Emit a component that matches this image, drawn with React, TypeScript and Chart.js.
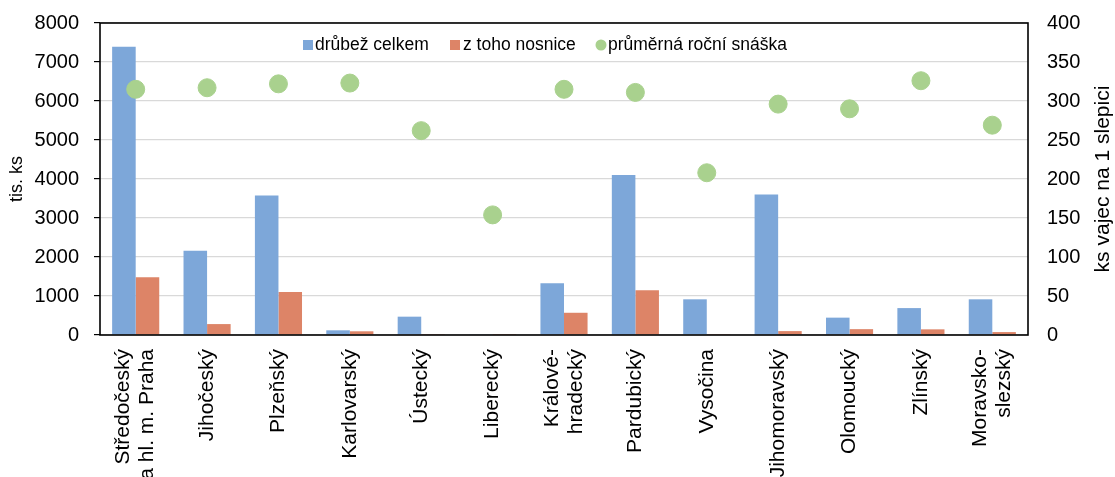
import React, { useEffect, useRef } from 'react';
import { Chart, registerables } from 'chart.js';

Chart.register(...registerables);

const categories: (string | string[])[] = [
  ['Středočeský', 'a hl. m. Praha'],
  'Jihočeský',
  'Plzeňský',
  'Karlovarský',
  'Ústecký',
  'Liberecký',
  ['Králové-', 'hradecký'],
  'Pardubický',
  'Vysočina',
  'Jihomoravský',
  'Olomoucký',
  'Zlínský',
  ['Moravsko-', 'slezský'],
];
const poultryTotal = [7390, 2160, 3580, 120, 470, 20, 1330, 4100, 915, 3600, 445, 690, 915];
const layingHens = [1480, 280, 1100, 95, 5, 3, 570, 1150, 5, 100, 150, 145, 75];
const avgLaying = [315, 317, 322, 323, 262, 154, 315, 311, 208, 296, 290, 326, 269];

const seriesNames = ['drůbež celkem', 'z toho nosnice', 'průměrná roční snáška'];
const leftTitle = 'tis. ks';
const rightTitle = 'ks vajec na 1 slepici';

const BLUE = '#7da7d9';
const ORANGE = '#dd8467';
const GREEN = '#a9d18e';
const FONT = '"Liberation Sans", Arial, sans-serif';

const framePlugin = {
  id: 'frame',
  afterDatasetsDraw(chart: any) {
    const { ctx, chartArea } = chart;
    ctx.save();
    ctx.strokeStyle = '#000';
    ctx.lineWidth = 1.6;
    ctx.strokeRect(chartArea.left, chartArea.top, chartArea.right - chartArea.left, chartArea.bottom - chartArea.top);
    ctx.restore();
  },
  afterDraw(chart: any) {
    const { ctx, chartArea } = chart;
    const xScale = chart.scales.x;

    // category labels, rotated, reading bottom to top, lines centred on the tick
    ctx.save();
    ctx.font = `21px ${FONT}`;
    ctx.fillStyle = '#000';
    ctx.textAlign = 'right';
    ctx.textBaseline = 'middle';
    const lh = 24;
    const labelTop = chartArea.bottom + 14;
    categories.forEach((lab, i) => {
      const lines = Array.isArray(lab) ? lab : [lab];
      const cx = xScale.getPixelForTick(i);
      lines.forEach((line, j) => {
        const x = cx + (j - (lines.length - 1) / 2) * lh;
        ctx.save();
        ctx.translate(x, labelTop);
        ctx.rotate(-Math.PI / 2);
        ctx.fillText(line, 0, 0);
        ctx.restore();
      });
    });
    ctx.restore();

    // right axis title, reading bottom to top
    ctx.save();
    ctx.font = `21px ${FONT}`;
    ctx.fillStyle = '#000';
    ctx.textAlign = 'center';
    ctx.textBaseline = 'middle';
    ctx.translate(1103, (chartArea.top + chartArea.bottom) / 2);
    ctx.rotate(-Math.PI / 2);
    ctx.fillText(rightTitle, 0, 0);
    ctx.restore();

    // legend inside plot area
    ctx.save();
    ctx.font = `17.5px ${FONT}`;
    ctx.textBaseline = 'middle';
    ctx.textAlign = 'left';
    const ly = 45;
    ctx.fillStyle = BLUE;
    ctx.fillRect(303, ly - 5, 10, 10);
    ctx.fillStyle = ORANGE;
    ctx.fillRect(450, ly - 5, 10, 10);
    ctx.fillStyle = GREEN;
    ctx.beginPath();
    ctx.arc(601, ly, 5.5, 0, Math.PI * 2);
    ctx.fill();
    ctx.fillStyle = '#000';
    ctx.fillText(seriesNames[0], 315, ly);
    ctx.fillText(seriesNames[1], 463, ly);
    ctx.fillText(seriesNames[2], 608, ly);
    ctx.restore();
  },
};

export default function App() {
  const ref = useRef<HTMLCanvasElement | null>(null);

  useEffect(() => {
    if (!ref.current) return;
    const chart = new Chart(ref.current, {
      type: 'bar',
      data: {
        labels: categories as any,
        datasets: [
          {
            type: 'line',
            label: seriesNames[2],
            data: avgLaying,
            yAxisID: 'y1',
            showLine: false,
            pointRadius: 9,
            pointHoverRadius: 9,
            pointBackgroundColor: GREEN,
            pointBorderColor: GREEN,
            backgroundColor: GREEN,
            borderColor: GREEN,
            order: 0,
          } as any,
          {
            label: seriesNames[0],
            data: poultryTotal,
            backgroundColor: BLUE,
            yAxisID: 'y',
            order: 1,
          },
          {
            label: seriesNames[1],
            data: layingHens,
            backgroundColor: ORANGE,
            yAxisID: 'y',
            order: 1,
          },
        ],
      },
      options: {
        animation: false,
        responsive: true,
        maintainAspectRatio: false,
        layout: { padding: { top: 23, left: 0, right: 0, bottom: 0 } },
        datasets: {
          bar: { categoryPercentage: 0.66, barPercentage: 1.0 },
        } as any,
        plugins: {
          legend: { display: false },
          tooltip: { enabled: false },
        },
        scales: {
          x: {
            grid: { display: false, drawTicks: false },
            border: { display: false },
            ticks: { display: false },
            afterFit(scale: any) {
              scale.height = 142;
              scale.paddingLeft = 0;
              scale.paddingRight = 0;
            },
          },
          y: {
            position: 'left',
            min: 0,
            max: 8000,
            ticks: {
              stepSize: 1000,
              padding: 15,
              color: '#000',
              font: { family: FONT, size: 20 },
              callback: (v: any) => String(v),
            },
            grid: {
              color: '#d9d9d9',
              lineWidth: 1.2,
              tickColor: '#000',
              tickLength: 6,
            },
            border: { display: false },
            title: {
              display: true,
              text: leftTitle,
              color: '#000',
              font: { family: FONT, size: 18 },
              padding: { top: 6, bottom: 0 },
            },
            afterFit(scale: any) {
              scale.width = 100;
              scale.paddingTop = 0;
              scale.paddingBottom = 0;
            },
          },
          y1: {
            position: 'right',
            min: 0,
            max: 400,
            ticks: {
              stepSize: 50,
              padding: 19,
              color: '#000',
              font: { family: FONT, size: 20 },
              callback: (v: any) => String(v),
            },
            grid: { drawOnChartArea: false, drawTicks: false },
            border: { display: false },
            afterFit(scale: any) {
              scale.width = 87;
              scale.paddingTop = 0;
              scale.paddingBottom = 0;
            },
          },
        },
      },
      plugins: [framePlugin],
    });
    return () => chart.destroy();
  }, []);

  return (
    <div style={{ position: 'absolute', left: 0, top: 0, width: 1115, height: 477, background: '#fff' }}>
      <canvas ref={ref} />
    </div>
  );
}
